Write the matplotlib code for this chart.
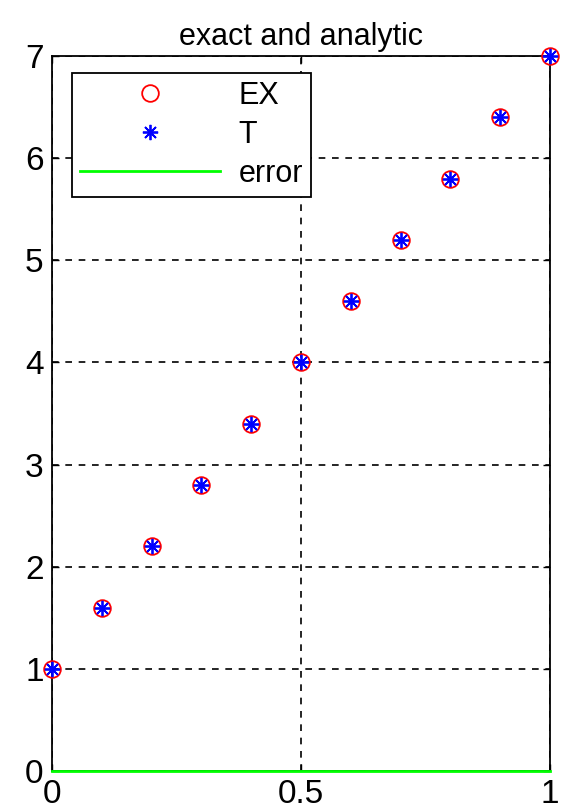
import matplotlib
matplotlib.use("Agg")
import matplotlib.pyplot as plt

x = [0, 0.1, 0.2, 0.3, 0.4, 0.5, 0.6, 0.7, 0.8, 0.9, 1.0]
ex = [1.0, 1.6, 2.2, 2.8, 3.4, 4.0, 4.6, 5.2, 5.8, 6.4, 7.0]
t = [1.0, 1.6, 2.2, 2.8, 3.4, 4.0, 4.6, 5.2, 5.8, 6.4, 7.0]
err = [0.0] * 11
xticks = [0, 0.5, 1]
xticklabels = ["0", "0.5", "1"]
yticks = [0, 1, 2, 3, 4, 5, 6, 7]

plt.rcParams['font.family'] = ['Liberation Sans', 'DejaVu Sans']
fig = plt.figure(figsize=(5.67, 8.11), dpi=100)
ax = fig.add_axes([52/567, 1-771/811, (550-52)/567, (771-56)/811])

ax.plot(x, ex, 'o', color='red', markerfacecolor='none', markersize=12, markeredgewidth=1.3,
        label='EX', clip_on=False, zorder=3)
ax.plot(x, t, marker=(8, 2, 0), linestyle='none', color='blue', markersize=11, markeredgewidth=1.3,
        label='T', clip_on=False, zorder=4)
ax.plot(x, err, '-', color='#00ff00', linewidth=2, label='error', clip_on=False, zorder=5)

ax.set_xlim(0, 1)
ax.set_ylim(0, 7)
ax.set_xticks(xticks)
ax.set_xticklabels(xticklabels)
ax.set_yticks(yticks)
ax.tick_params(direction='in', labelsize=24, length=5, width=1, top=True, right=True, pad=6)
ax.grid(True, color='black', linestyle=(0, (4, 4)), linewidth=1.2)
for s in ax.spines.values():
    s.set_linewidth(1.3)
ax.set_title('exact and analytic', fontsize=22, pad=8)
leg = ax.legend(loc='upper left', bbox_to_anchor=((72-52)/498, 1 - (73-56)/715), fontsize=22,
                fancybox=False, edgecolor='black', framealpha=1, borderpad=0.25, handlelength=4.6,
                labelspacing=0.3, handletextpad=0.6, borderaxespad=0)
leg.get_frame().set_linewidth(1.3)
leg.set_zorder(10)
fig.savefig('out.png', dpi=100)
